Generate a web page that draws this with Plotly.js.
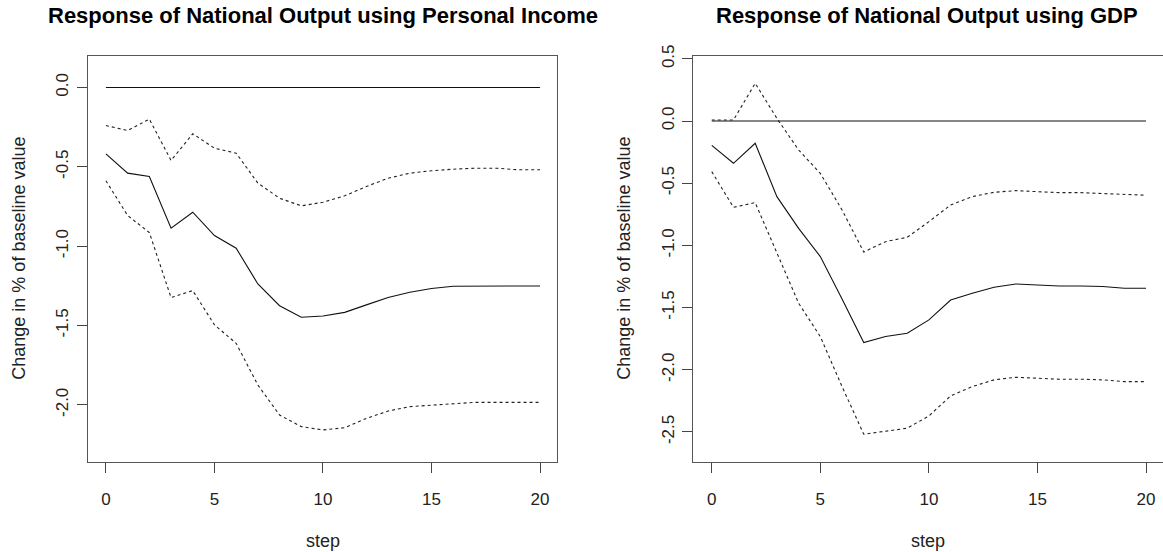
<!DOCTYPE html>
<html>
<head>
<meta charset="utf-8">
<script src="https://cdn.plot.ly/plotly-3.0.1.min.js"></script>
<style>html,body{margin:0;padding:0;background:#fff;}#chart{width:1163px;height:552px;}</style>
</head>
<body>
<div id="chart"></div>
<script>
// ---- data ----
const steps = [0,1,2,3,4,5,6,7,8,9,10,11,12,13,14,15,16,17,18,19,20];
const zeroLine = [0,0,0,0,0,0,0,0,0,0,0,0,0,0,0,0,0,0,0,0,0];

// Personal income panel
const piMid   = [-0.418,-0.540,-0.561,-0.887,-0.786,-0.933,-1.013,-1.238,-1.375,-1.448,-1.440,-1.417,-1.370,-1.324,-1.290,-1.267,-1.253,-1.251,-1.251,-1.251,-1.251];
const piUpper = [-0.240,-0.271,-0.200,-0.460,-0.292,-0.383,-0.414,-0.603,-0.698,-0.746,-0.723,-0.683,-0.624,-0.572,-0.540,-0.525,-0.515,-0.509,-0.509,-0.519,-0.519];
const piLower = [-0.588,-0.807,-0.914,-1.324,-1.280,-1.496,-1.612,-1.875,-2.064,-2.137,-2.158,-2.144,-2.085,-2.039,-2.011,-2.001,-1.990,-1.984,-1.984,-1.984,-1.984];

// GDP panel
const gdpMid   = [-0.196,-0.340,-0.179,-0.608,-0.863,-1.090,-1.430,-1.781,-1.733,-1.706,-1.599,-1.439,-1.385,-1.337,-1.310,-1.318,-1.326,-1.326,-1.331,-1.345,-1.345];
const gdpUpper = [0.008,0.008,0.303,0.021,-0.233,-0.421,-0.715,-1.053,-0.970,-0.935,-0.809,-0.675,-0.608,-0.573,-0.560,-0.571,-0.576,-0.576,-0.584,-0.595,-0.597];
const gdpLower = [-0.407,-0.694,-0.656,-1.063,-1.465,-1.733,-2.135,-2.518,-2.497,-2.470,-2.371,-2.210,-2.135,-2.081,-2.060,-2.068,-2.076,-2.076,-2.081,-2.095,-2.095];

// tick labels
const xTickVals = [0,5,10,15,20];
const xTickText = ['0','5','10','15','20'];
const piTickVals = [0,-0.5,-1,-1.5,-2];
const piTickText = ['0.0','-0.5','-1.0','-1.5','-2.0'];
const gdpTickVals = [0.5,0,-0.5,-1,-1.5,-2,-2.5];
const gdpTickText = ['0.5','0.0','-0.5','-1.0','-1.5','-2.0','-2.5'];

const titleLeft = 'Response of National Output using Personal Income';
const titleRight = 'Response of National Output using GDP';
const xLabel = 'step';
const yLabel = 'Change in % of baseline value';

// ---- drawing ----
const FONT = 'Liberation Sans, Arial, Helvetica, sans-serif';
function ln(y, xa, ya, dash){
  return {x: steps, y: y, xaxis: xa, yaxis: ya, type: 'scatter', mode: 'lines',
          line: {color: dash ? '#222' : '#111', width: 1.1, dash: dash ? 'dot' : 'solid'},
          hoverinfo: 'skip'};
}
const traces = [
  ln(zeroLine,'x','y',false), ln(piMid,'x','y',false), ln(piUpper,'x','y',true), ln(piLower,'x','y',true),
  ln(zeroLine,'x2','y2',false), ln(gdpMid,'x2','y2',false), ln(gdpUpper,'x2','y2',true), ln(gdpLower,'x2','y2',true)
];

const W = 1163, H = 552;
function px(x){ return x / W; }
function py(y){ return (H - y) / H; }

const common = {showgrid:false, zeroline:false, showline:true, mirror:true, linecolor:'#555', linewidth:1,
  ticks:'outside', ticklen:10, tickcolor:'#444', tickwidth:1,
  tickfont:{family:FONT, size:17, color:'#222'}, fixedrange:true};

const yDom = [py(461.7), py(55.7)];
const layout = {
  width: W, height: H, margin:{l:0,r:0,t:0,b:0}, showlegend:false,
  paper_bgcolor:'#fff', plot_bgcolor:'#fff',
  xaxis: Object.assign({}, common, {domain:[px(87.7), px(557.4)], range:[-0.84, 20.8], anchor:'y',
    tickmode:'array', tickvals:xTickVals, ticktext:xTickText, ticklabelstandoff:12}),
  yaxis: Object.assign({}, common, {domain:yDom, range:[-2.358, 0.2], anchor:'x',
    tickmode:'array', tickvals:piTickVals, ticktext:piTickText, tickangle:-90, ticklabelstandoff:2}),
  xaxis2: Object.assign({}, common, {domain:[px(693.3), 1], range:[-0.85, 20.78], anchor:'y2',
    tickmode:'array', tickvals:xTickVals, ticktext:xTickText, ticklabelstandoff:12}),
  yaxis2: Object.assign({}, common, {domain:yDom, range:[-2.739, 0.525], anchor:'x2',
    tickmode:'array', tickvals:gdpTickVals, ticktext:gdpTickText, tickangle:-90, ticklabelstandoff:2}),
  annotations: [
    {text:'<b>'+titleLeft+'</b>', x:px(322.5), y:py(15.5), xref:'paper', yref:'paper', xanchor:'center', yanchor:'middle', showarrow:false, font:{family:FONT, size:22, color:'#000'}},
    {text:'<b>'+titleRight+'</b>', x:px(926.5), y:py(15.5), xref:'paper', yref:'paper', xanchor:'center', yanchor:'middle', showarrow:false, font:{family:FONT, size:22, color:'#000'}},
    {text:xLabel, x:px(322.5), y:py(541), xref:'paper', yref:'paper', xanchor:'center', yanchor:'middle', showarrow:false, font:{family:FONT, size:18, color:'#222'}},
    {text:xLabel, x:px(928), y:py(541), xref:'paper', yref:'paper', xanchor:'center', yanchor:'middle', showarrow:false, font:{family:FONT, size:18, color:'#222'}},
    {text:yLabel, x:px(19), y:py(258.7), xref:'paper', yref:'paper', xanchor:'center', yanchor:'middle', textangle:-90, showarrow:false, font:{family:FONT, size:18, color:'#222'}},
    {text:yLabel, x:px(624), y:py(258.7), xref:'paper', yref:'paper', xanchor:'center', yanchor:'middle', textangle:-90, showarrow:false, font:{family:FONT, size:18, color:'#222'}}
  ]
};

Plotly.newPlot('chart', traces, layout, {displayModeBar:false, staticPlot:true});
</script>
</body>
</html>
